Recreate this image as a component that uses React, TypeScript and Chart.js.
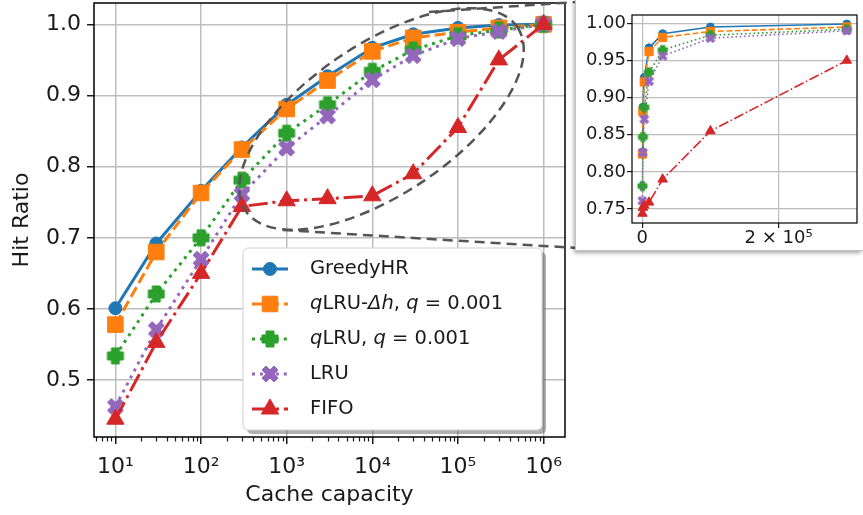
import React, { useEffect, useRef } from 'react';
import { Chart, registerables } from 'chart.js';

Chart.register(...registerables);

// ---------------- data ----------------
const capacities = [10, 30, 100, 300, 1000, 3000, 10000, 30000, 100000, 300000, 1000000];
const greedyHR = [0.601, 0.692, 0.766, 0.827, 0.887, 0.927, 0.967, 0.986, 0.995, 0.999, 1.0];
const qlruDeltaH = [0.578, 0.680, 0.763, 0.824, 0.881, 0.921, 0.962, 0.981, 0.989, 0.995, 1.0];
const qlru = [0.534, 0.621, 0.700, 0.781, 0.847, 0.887, 0.934, 0.964, 0.984, 0.992, 1.0];
const lru = [0.463, 0.571, 0.670, 0.761, 0.826, 0.871, 0.922, 0.956, 0.980, 0.990, 1.0];
const fifo = [0.445, 0.553, 0.650, 0.744, 0.752, 0.755, 0.759, 0.790, 0.855, 0.950, 1.0];

const seriesValues = [greedyHR, qlruDeltaH, qlru, lru, fifo];
const seriesNames = ['GreedyHR', '*q*LRU-*Δh*, *q* = 0.001', '*q*LRU, *q* = 0.001', 'LRU', 'FIFO'];

const mainYTicks = [0.5, 0.6, 0.7, 0.8, 0.9, 1.0];
const mainXTicks = [10, 100, 1000, 10000, 100000, 1000000];
const mainXTickLabels = ['10¹', '10²', '10³', '10⁴', '10⁵', '10⁶'];
const insetYTicks = [0.75, 0.8, 0.85, 0.9, 0.95, 1.0];
const insetXTicks = [0, 200000];
const insetXTickLabels = ['0', '2 × 10⁵'];
const insetFirst = 3; // inset shows capacities 300 .. 3e5
const insetLast = 9;

// zoom ellipse (data-space centre)
const ellipseCenterX = 12800;
const ellipseCenterY = 0.867;

// ---------------- styles ----------------
const FONT = "'DejaVu Sans', 'Liberation Sans', sans-serif";
const TEXT = '#1a1a1a';
const GRID = '#bdbdbd';
const COLORS = ['#1f77b4', '#ff7f0e', '#2ca02c', '#9467bd', '#d62728'];
const MARKERS = ['circle', 'rect', 'plus', 'x', 'triangle'];
const DASH_UNITS = [[], [3.7, 1.6], [1, 1.65], [1, 1.65], [6.4, 1.6, 1, 1.6]];

const PLUS_VERTS = [[-1, -2], [-1, -1], [-2, -1], [-2, 1], [-1, 1], [-1, 2], [1, 2], [1, 1], [2, 1], [2, -1], [1, -1], [1, -2]];
const X_VERTS = [[-1, -2], [0, -1], [1, -2], [2, -1], [1, 0], [2, 1], [1, 2], [0, 1], [-1, 2], [-2, 1], [-1, 0], [-2, -1]];

type Sizes = { circle: number; rect: number; triangle: number; poly: number };
const MAIN_SIZES: Sizes = { circle: 6.5, rect: 11, triangle: 10, poly: 16 };
const INSET_SIZES: Sizes = { circle: 4, rect: 5.8, triangle: 5.5, poly: 9 };

function makePolyCanvas(verts: number[][], size: number, color: string) {
  const c = document.createElement('canvas');
  const dim = Math.ceil(size + 4);
  c.width = dim;
  c.height = dim;
  const ctx = c.getContext('2d')!;
  const h = size / 4;
  ctx.beginPath();
  verts.forEach(([vx, vy], i) => {
    const px = dim / 2 + vx * h;
    const py = dim / 2 + vy * h;
    if (i === 0) ctx.moveTo(px, py);
    else ctx.lineTo(px, py);
  });
  ctx.closePath();
  ctx.fillStyle = color;
  ctx.fill();
  ctx.strokeStyle = color;
  ctx.lineWidth = 1;
  ctx.stroke();
  return c;
}

function pointStyleFor(idx: number, sizes: Sizes): any {
  const kind = MARKERS[idx];
  if (kind === 'plus') return makePolyCanvas(PLUS_VERTS, sizes.poly, COLORS[idx]);
  if (kind === 'x') return makePolyCanvas(X_VERTS, sizes.poly, COLORS[idx]);
  return kind;
}

function radiusFor(idx: number, sizes: Sizes) {
  const kind = MARKERS[idx];
  if (kind === 'circle') return sizes.circle;
  if (kind === 'rect') return sizes.rect;
  if (kind === 'triangle') return sizes.triangle;
  return sizes.poly / 2;
}

function buildDatasets(first: number, last: number, sizes: Sizes, lw: number) {
  return seriesValues.map((vals, idx) => {
    const data = [];
    for (let i = first; i <= last; i++) data.push({ x: capacities[i], y: vals[i] });
    return {
      label: seriesNames[idx].replace(/\*/g, ''),
      data,
      order: 5 - idx,
      borderColor: COLORS[idx],
      backgroundColor: COLORS[idx],
      borderWidth: lw,
      borderDash: DASH_UNITS[idx].map((u) => u * lw),
      pointStyle: pointStyleFor(idx, sizes),
      pointRadius: radiusFor(idx, sizes),
      pointBorderWidth: 1,
      pointBorderColor: COLORS[idx],
      pointBackgroundColor: COLORS[idx],
      tension: 0,
      fill: false,
    };
  });
}

function drawMarker(ctx: CanvasRenderingContext2D, idx: number, x: number, y: number, sizes: Sizes, style: any) {
  const color = COLORS[idx];
  ctx.save();
  ctx.fillStyle = color;
  ctx.strokeStyle = color;
  ctx.lineWidth = 1;
  ctx.setLineDash([]);
  const kind = MARKERS[idx];
  if (kind === 'circle') {
    ctx.beginPath();
    ctx.arc(x, y, sizes.circle, 0, Math.PI * 2);
    ctx.fill();
    ctx.stroke();
  } else if (kind === 'rect') {
    const s = sizes.rect * Math.SQRT1_2;
    ctx.beginPath();
    ctx.rect(x - s, y - s, 2 * s, 2 * s);
    ctx.fill();
    ctx.stroke();
  } else if (kind === 'triangle') {
    const r = sizes.triangle;
    ctx.beginPath();
    for (let k = 0; k < 3; k++) {
      const a = (k * 2 * Math.PI) / 3;
      const px = x + Math.sin(a) * r;
      const py = y - Math.cos(a) * r;
      if (k === 0) ctx.moveTo(px, py);
      else ctx.lineTo(px, py);
    }
    ctx.closePath();
    ctx.fill();
    ctx.stroke();
  } else {
    ctx.drawImage(style, x - style.width / 2, y - style.height / 2);
  }
  ctx.restore();
}

function drawRich(ctx: CanvasRenderingContext2D, text: string, x: number, y: number, size: number) {
  const parts = text.split('*');
  let cx = x;
  parts.forEach((p, i) => {
    if (!p) return;
    ctx.font = `${i % 2 === 1 ? 'italic ' : ''}${size}px ${FONT}`;
    ctx.fillText(p, cx, y);
    cx += ctx.measureText(p).width;
  });
}

function roundRect(ctx: CanvasRenderingContext2D, x: number, y: number, w: number, h: number, r: number) {
  ctx.beginPath();
  ctx.moveTo(x + r, y);
  ctx.lineTo(x + w - r, y);
  ctx.arcTo(x + w, y, x + w, y + r, r);
  ctx.lineTo(x + w, y + h - r);
  ctx.arcTo(x + w, y + h, x + w - r, y + h, r);
  ctx.lineTo(x + r, y + h);
  ctx.arcTo(x, y + h, x, y + h - r, r);
  ctx.lineTo(x, y + r);
  ctx.arcTo(x, y, x + r, y, r);
  ctx.closePath();
}

function zeroPad(s: any) {
  s.paddingTop = 0;
  s.paddingBottom = 0;
  s.paddingLeft = 0;
  s.paddingRight = 0;
}

export default function App() {
  const mainRef = useRef<HTMLCanvasElement>(null);
  const insetRef = useRef<HTMLCanvasElement>(null);

  useEffect(() => {
    Chart.defaults.font.family = FONT;
    Chart.defaults.color = TEXT;

    const mainDatasets = buildDatasets(0, capacities.length - 1, MAIN_SIZES, 3);
    const legendStyles = mainDatasets.map((d) => d.pointStyle);

    const mainDecor = {
      id: 'mainDecor',
      afterDatasetsDraw(chart: any) {
        const { ctx, chartArea: a, scales } = chart;
        const xs = scales.x;
        const ys = scales.y;
        ctx.save();
        // minor ticks on log axis
        ctx.strokeStyle = TEXT;
        ctx.lineWidth = 1.2;
        for (let k = 0; k <= 6; k++) {
          for (let m = 2; m <= 9; m++) {
            const v = m * Math.pow(10, k);
            if (v < xs.min || v > xs.max) continue;
            const px = Math.round(xs.getPixelForValue(v)) + 0.5;
            ctx.beginPath();
            ctx.moveTo(px, a.bottom);
            ctx.lineTo(px, a.bottom + 4.5);
            ctx.stroke();
          }
        }
        // frame
        ctx.strokeStyle = '#000';
        ctx.lineWidth = 1.5;
        ctx.strokeRect(a.left, a.top, a.right - a.left, a.bottom - a.top);

        // zoom ellipse + connectors
        const cx = xs.getPixelForValue(ellipseCenterX);
        const cy = ys.getPixelForValue(ellipseCenterY);
        ctx.strokeStyle = '#555555';
        ctx.lineWidth = 2.5;
        ctx.setLineDash([10, 6]);
        ctx.beginPath();
        ctx.ellipse(cx, cy, 164, 75, (-34 * Math.PI) / 180, 0, Math.PI * 2);
        ctx.stroke();
        ctx.beginPath();
        ctx.moveTo(a.left + 335, a.top + 9);
        ctx.lineTo(a.right + 12, a.top - 1);
        ctx.stroke();
        ctx.beginPath();
        ctx.moveTo(a.left + 189, a.top + 227);
        ctx.lineTo(a.right + 12, a.top + 245);
        ctx.stroke();
        ctx.setLineDash([]);

        // legend
        const lx = a.right - 322;
        const ly = a.bottom - 189;
        const lw = 299;
        const lh = 182;
        ctx.fillStyle = 'rgba(60,60,60,0.4)';
        roundRect(ctx, lx + 4, ly + 4, lw, lh, 5);
        ctx.fill();
        ctx.fillStyle = '#ffffff';
        roundRect(ctx, lx, ly, lw, lh, 5);
        ctx.fill();
        ctx.strokeStyle = '#d0d0d0';
        ctx.lineWidth = 1;
        ctx.stroke();
        ctx.textBaseline = 'middle';
        ctx.textAlign = 'left';
        seriesNames.forEach((name, idx) => {
          const ry = ly + 21 + idx * 35;
          ctx.strokeStyle = COLORS[idx];
          ctx.lineWidth = 3;
          ctx.setLineDash(DASH_UNITS[idx].map((u) => u * 3));
          ctx.beginPath();
          ctx.moveTo(lx + 9, ry);
          ctx.lineTo(lx + 45, ry);
          ctx.stroke();
          ctx.setLineDash([]);
          drawMarker(ctx, idx, lx + 27, ry, MAIN_SIZES, legendStyles[idx]);
          ctx.fillStyle = TEXT;
          drawRich(ctx, name, lx + 67, ry, 19.5);
        });
        ctx.restore();
      },
    };

    const main = new Chart(mainRef.current!, {
      type: 'line',
      data: { datasets: mainDatasets as any },
      options: {
        animation: false,
        responsive: false,
        maintainAspectRatio: false,
        events: [],
        layout: { autoPadding: false, padding: { left: 0, top: 3, right: 298, bottom: 0 } },
        plugins: { legend: { display: false }, tooltip: { enabled: false } },
        scales: {
          x: {
            type: 'logarithmic',
            min: Math.pow(10, 0.75),
            max: Math.pow(10, 6.25),
            afterBuildTicks: (s: any) => {
              s.ticks = mainXTicks.map((v) => ({ value: v, major: true }));
            },
            afterFit: (s: any) => {
              s.height = 78;
              zeroPad(s);
            },
            ticks: {
              autoSkip: false,
              maxRotation: 0,
              minRotation: 0,
              padding: 10,
              color: TEXT,
              font: { size: 22 },
              callback: (_v: any, i: number) => mainXTickLabels[i],
            },
            grid: { color: GRID, lineWidth: 1.5, tickLength: 7, tickColor: TEXT, tickWidth: 1.5 },
            border: { display: false },
            title: {
              display: true,
              text: 'Cache capacity',
              color: TEXT,
              font: { size: 22 },
              padding: { top: 0, bottom: 7 },
            },
          } as any,
          y: {
            type: 'linear',
            min: 0.42,
            max: 1.03,
            afterBuildTicks: (s: any) => {
              s.ticks = mainYTicks.map((v) => ({ value: v }));
            },
            afterFit: (s: any) => {
              s.width = 94;
              zeroPad(s);
            },
            ticks: {
              padding: 6,
              color: TEXT,
              font: { size: 22 },
              callback: (v: any) => Number(v).toFixed(1),
            },
            grid: { color: GRID, lineWidth: 1.5, tickLength: 7, tickColor: TEXT, tickWidth: 1.5 },
            border: { display: false },
            title: {
              display: true,
              text: 'Hit Ratio',
              color: TEXT,
              font: { size: 22 },
              padding: { top: 9, bottom: 0 },
            },
          } as any,
        },
      },
      plugins: [mainDecor],
    });

    const insetDecor = {
      id: 'insetDecor',
      afterDatasetsDraw(chart: any) {
        const { ctx, chartArea: a } = chart;
        ctx.save();
        ctx.strokeStyle = '#000';
        ctx.lineWidth = 1.2;
        ctx.strokeRect(a.left, a.top, a.right - a.left, a.bottom - a.top);
        ctx.restore();
      },
    };

    const inset = new Chart(insetRef.current!, {
      type: 'line',
      data: { datasets: buildDatasets(insetFirst, insetLast, INSET_SIZES, 1.6) as any },
      options: {
        animation: false,
        responsive: false,
        maintainAspectRatio: false,
        events: [],
        layout: { autoPadding: false, padding: { left: 0, top: 15, right: 6, bottom: 0 } },
        plugins: { legend: { display: false }, tooltip: { enabled: false } },
        scales: {
          x: {
            type: 'linear',
            min: -15000,
            max: 315000,
            afterBuildTicks: (s: any) => {
              s.ticks = insetXTicks.map((v) => ({ value: v }));
            },
            afterFit: (s: any) => {
              s.height = 27;
              zeroPad(s);
            },
            ticks: {
              autoSkip: false,
              maxRotation: 0,
              padding: 0,
              color: TEXT,
              font: { size: 18 },
              callback: (_v: any, i: number) => insetXTickLabels[i],
            },
            grid: { color: GRID, lineWidth: 1.2, tickLength: 5, tickColor: TEXT, tickWidth: 1.2 },
            border: { display: false },
          } as any,
          y: {
            type: 'linear',
            min: 0.7312,
            max: 1.0112,
            afterBuildTicks: (s: any) => {
              s.ticks = insetYTicks.map((v) => ({ value: v }));
            },
            afterFit: (s: any) => {
              s.width = 56;
              zeroPad(s);
            },
            ticks: {
              padding: 1,
              color: TEXT,
              font: { size: 18 },
              callback: (v: any) => Number(v).toFixed(2),
            },
            grid: { color: GRID, lineWidth: 1.2, tickLength: 5, tickColor: TEXT, tickWidth: 1.2 },
            border: { display: false },
          } as any,
        },
      },
      plugins: [insetDecor],
    });

    return () => {
      main.destroy();
      inset.destroy();
    };
  }, []);

  return (
    <div style={{ position: 'fixed', left: 0, top: 0, width: 863, height: 515, background: '#fff', overflow: 'hidden' }}>
      <canvas
        ref={mainRef}
        width={863}
        height={515}
        style={{ position: 'absolute', left: 0, top: 0, width: 863, height: 515 }}
      />
      <div
        style={{
          position: 'absolute',
          left: 576,
          top: 0,
          width: 287,
          height: 250,
          background: '#fff',
          boxShadow: '0 0 0 1px #c4c4c4, -2px 3px 4px rgba(0,0,0,0.35)',
        }}
      >
        <canvas
          ref={insetRef}
          width={287}
          height={250}
          style={{ position: 'absolute', left: 0, top: 0, width: 287, height: 250 }}
        />
      </div>
    </div>
  );
}
